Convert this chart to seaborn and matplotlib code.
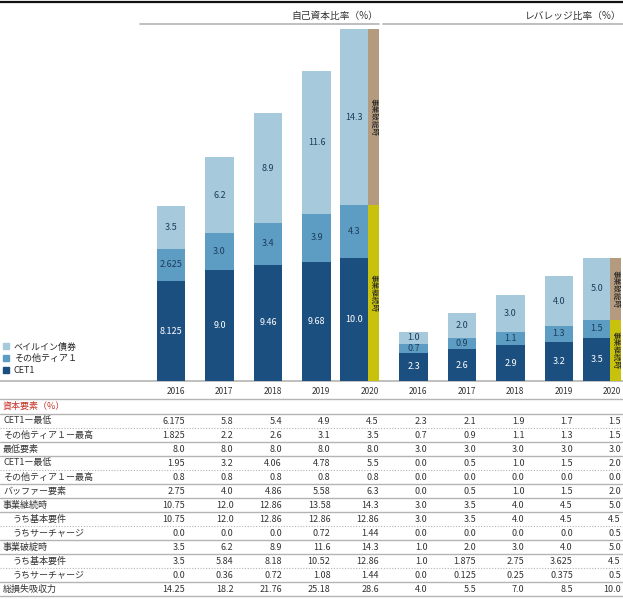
import numpy as np
import pandas as pd
import matplotlib
matplotlib.use("Agg")
import matplotlib.pyplot as plt
from matplotlib.patches import Patch
import seaborn as sns

years = ["2016", "2017", "2018", "2019", "2020"]

# 自己資本比率 (%)
cap_cet1 = [8.125, 9.0, 9.46, 9.68, 10.0]
cap_at1 = [2.625, 3.0, 3.4, 3.9, 4.3]
cap_bailin = [3.5, 6.2, 8.9, 11.6, 14.3]
# レバレッジ比率 (%)
lev_cet1 = [2.3, 2.6, 2.9, 3.2, 3.5]
lev_at1 = [0.7, 0.9, 1.1, 1.3, 1.5]
lev_bailin = [1.0, 2.0, 3.0, 4.0, 5.0]

series_labels = ["ベイルイン債券", "その他ティア１", "CET1"]
strip_labels = ["事業継続時", "事業破綻時"]
section_titles = ["自己資本比率（%）", "レバレッジ比率（%）"]

# table rows: 5 capital-ratio columns then 5 leverage-ratio columns
table_header = "資本要素（%）"
cet1_min = [6.175, 5.8, 5.4, 4.9, 4.5, 2.3, 2.1, 1.9, 1.7, 1.5]
at1_max = [1.825, 2.2, 2.6, 3.1, 3.5, 0.7, 0.9, 1.1, 1.3, 1.5]
min_req = [8.0, 8.0, 8.0, 8.0, 8.0, 3.0, 3.0, 3.0, 3.0, 3.0]
buf_cet1 = [1.95, 3.2, 4.06, 4.78, 5.5, 0.0, 0.5, 1.0, 1.5, 2.0]
buf_at1 = [0.8, 0.8, 0.8, 0.8, 0.8, 0.0, 0.0, 0.0, 0.0, 0.0]
buffer_req = [2.75, 4.0, 4.86, 5.58, 6.3, 0.0, 0.5, 1.0, 1.5, 2.0]
going = [10.75, 12.0, 12.86, 13.58, 14.3, 3.0, 3.5, 4.0, 4.5, 5.0]
going_base = [10.75, 12.0, 12.86, 12.86, 12.86, 3.0, 3.5, 4.0, 4.5, 4.5]
going_sur = [0.0, 0.0, 0.0, 0.72, 1.44, 0.0, 0.0, 0.0, 0.0, 0.5]
gone = [3.5, 6.2, 8.9, 11.6, 14.3, 1.0, 2.0, 3.0, 4.0, 5.0]
gone_base = [3.5, 5.84, 8.18, 10.52, 12.86, 1.0, 1.875, 2.75, 3.625, 4.5]
gone_sur = [0.0, 0.36, 0.72, 1.08, 1.44, 0.0, 0.125, 0.25, 0.375, 0.5]
tlac = [14.25, 18.2, 21.76, 25.18, 28.6, 4.0, 5.5, 7.0, 8.5, 10.0]

table_rows = [
    ("CET1ー最低", 0, cet1_min),
    ("その他ティア１ー最高", 0, at1_max),
    ("最低要素", 0, min_req),
    ("CET1ー最低", 0, buf_cet1),
    ("その他ティア１ー最高", 0, buf_at1),
    ("バッファー要素", 0, buffer_req),
    ("事業継続時", 0, going),
    ("うち基本要件", 1, going_base),
    ("うちサーチャージ", 1, going_sur),
    ("事業破綻時", 0, gone),
    ("うち基本要件", 1, gone_base),
    ("うちサーチャージ", 1, gone_sur),
    ("総損失吸収力", 0, tlac),
]
# separator under each row: True = solid, False = dotted
solid_sep = [False, True, True, False, True, True, True, False, True, True, False, True, True]

c_cet1 = "#1b4f7f"
c_at1 = "#5d9dc4"
c_bail = "#a6c9dc"
c_going = "#c8c20c"
c_gone = "#b49b80"
c_line = "#b4b4b4"
c_text = "#333333"


def fmt(v):
    s = f"{v:g}"
    return s if "." in s else s + ".0"


sns.set_theme(style="white")
plt.rcParams["font.family"] = ["Noto Sans CJK JP", "DejaVu Sans"]

W, H = 623, 599
fig = plt.figure(figsize=(W / 100, H / 100), dpi=100)

# pixel overlay for table, titles, rules
tx = fig.add_axes([0, 0, 1, 1])
tx.set_xlim(0, W)
tx.set_ylim(H, 0)
tx.set_axis_off()

# chart axes: slot k centred at X0 + STEP*k pixels
X0, STEP = 171, 48.5
BASE_PX, PX_PER_UNIT = 381, 12.3
YMAX = 30
ax = fig.add_axes([0, (H - BASE_PX) / H, 1, YMAX * PX_PER_UNIT / H])

slot = np.arange(10, dtype=float)
bar_x = slot.copy()
bar_x[[4, 9]] -= 0.22
BAR_W = 0.58

df = pd.DataFrame({
    "x": bar_x,
    "cet1": cap_cet1 + lev_cet1,
    "at1": cap_at1 + lev_at1,
    "bailin": cap_bailin + lev_bailin,
})
df["mid"] = df["cet1"] + df["at1"]
df["top"] = df["mid"] + df["bailin"]
wscale = BAR_W / np.diff(np.sort(bar_x)).min()
for col, c in [("top", c_bail), ("mid", c_at1), ("cet1", c_cet1)]:
    sns.barplot(data=df, x="x", y=col, native_scale=True, orient="x",
                color=c, saturation=1, width=wscale, errorbar=None,
                linewidth=0, ax=ax)

# 2020 strips: going-concern / gone-concern
STRIP_W = 0.22
strip_df = pd.DataFrame({
    "x": slot[[4, 9]] + 0.17,
    "going": [going[4], going[9]],
    "total": [tlac[4], tlac[9]],
})
sw = STRIP_W / np.diff(strip_df["x"]).min()
for col, c in [("total", c_gone), ("going", c_going)]:
    sns.barplot(data=strip_df, x="x", y=col, native_scale=True, orient="x",
                color=c, saturation=1, width=sw, errorbar=None,
                linewidth=0, ax=ax)

for _, r in strip_df.iterrows():
    ax.text(r["x"], r["going"] / 2, strip_labels[0], rotation=270,
            ha="center", va="center", fontsize=5.5, color="#222222")
    ax.text(r["x"], (r["going"] + r["total"]) / 2, strip_labels[1],
            rotation=270, ha="center", va="center", fontsize=5.5,
            color="#222222")

# segment labels
for _, r in df.iterrows():
    ax.text(r["x"], r["cet1"] / 2, fmt(r["cet1"]), ha="center", va="center",
            fontsize=6.5, color="white")
    ax.text(r["x"], r["cet1"] + r["at1"] / 2, fmt(r["at1"]), ha="center",
            va="center", fontsize=6.5, color="#1d3d5c")
    ax.text(r["x"], r["mid"] + r["bailin"] / 2, fmt(r["bailin"]), ha="center",
            va="center", fontsize=6.5, color="#1d3d5c")

ax.set_xlim(-X0 / STEP, (W - X0) / STEP)
ax.set_ylim(0, YMAX)
ax.set_axis_off()

fig.legend(
    handles=[Patch(color=c_bail), Patch(color=c_at1), Patch(color=c_cet1)],
    labels=series_labels, loc="lower left",
    bbox_to_anchor=(3 / W, (H - 375) / H), frameon=False, fontsize=6.5,
    handlelength=0.7, handleheight=0.7, handletextpad=0.5,
    labelspacing=0.3, borderpad=0, borderaxespad=0,
)

# top rule and section titles
tx.plot([0, W], [1.5, 1.5], color="#111111", lw=1.6)
tx.text(378, 16, section_titles[0], ha="right", va="center", fontsize=7,
        color=c_text)
tx.text(621, 16, section_titles[1], ha="right", va="center", fontsize=7,
        color=c_text)
tx.plot([140, 379], [24, 24], color=c_line, lw=1.2)
tx.plot([383, W], [24, 24], color=c_line, lw=1.2)

# baseline
tx.plot([0, W], [BASE_PX, BASE_PX], color=c_line, lw=1.2)

# table
col_right = [min(X0 + STEP * k + 14, 621) for k in range(10)]
for k in range(10):
    tx.text(col_right[k], 392, years[k % 5], ha="right", va="center",
            fontsize=6, color=c_text)
tx.plot([0, W], [399, 399], color=c_line, lw=1)
tx.text(3, 406, table_header, ha="left", va="center", fontsize=6.5,
        color="#c8332b")
tx.plot([0, W], [414, 414], color=c_line, lw=1)

ROW0, ROW_H = 421, 14
for i, (label, indent, vals) in enumerate(table_rows):
    y = ROW0 + ROW_H * i
    tx.text(3 + 10 * indent, y, label, ha="left", va="center", fontsize=6.5,
            color=c_text)
    for k, v in enumerate(vals):
        tx.text(col_right[k], y, fmt(v), ha="right", va="center",
                fontsize=6.5, color=c_text)
    ys = y + ROW_H / 2
    if solid_sep[i]:
        tx.plot([0, W], [ys, ys], color=c_line, lw=1)
    else:
        tx.plot([0, W], [ys, ys], color=c_line, lw=0.8,
                linestyle=(0, (1, 1.5)))

fig.savefig("out.png", dpi=100)
